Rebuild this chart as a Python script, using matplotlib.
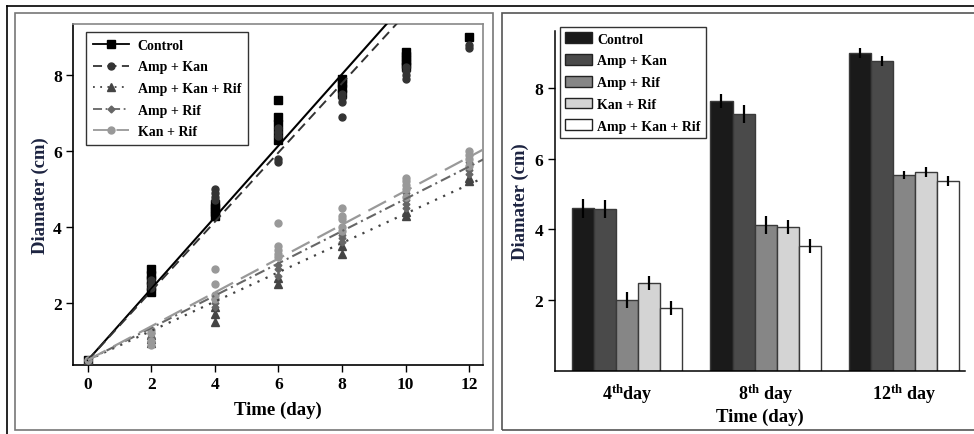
import numpy as np
import matplotlib
matplotlib.use("Agg")
import matplotlib.pyplot as plt
from matplotlib.lines import Line2D
from matplotlib.patches import Rectangle, Patch

plt.rcParams['font.family'] = ['Liberation Serif', 'DejaVu Serif']
plt.rcParams['font.weight'] = 'bold'
plt.rcParams['mathtext.fontset'] = 'custom'
plt.rcParams['mathtext.rm'] = 'Liberation Serif'
plt.rcParams['mathtext.bf'] = 'Liberation Serif:bold'

# ---- left panel: diameter over time (replicates + fitted lines) ----
days = [0, 2, 4, 6, 8, 10, 12]
series_names = ['Control', 'Amp + Kan', 'Amp + Kan + Rif', 'Amp + Rif', 'Kan + Rif']
control_reps = [[0.5], [2.3, 2.45, 2.6, 2.75, 2.9], [4.3, 4.4, 4.5, 4.6],
                [6.3, 6.5, 6.7, 6.9, 7.35], [7.5, 7.65, 7.8, 7.9],
                [8.2, 8.3, 8.4, 8.5, 8.6], [9.0]]
ampkan_reps = [[0.5], [2.4, 2.5, 2.6], [4.7, 4.8, 4.9, 5.0],
               [5.7, 5.8, 6.4, 6.5, 6.6], [6.9, 7.3, 7.4, 7.5],
               [7.9, 8.0, 8.1, 8.2], [8.7, 8.8]]
akr_reps = [[0.5], [0.95, 1.05, 1.15], [1.5, 1.7, 1.9], [2.5, 2.65],
            [3.3, 3.5], [4.3, 4.4], [5.2, 5.3]]
amprif_reps = [[0.5], [1.0, 1.1, 1.2], [1.9, 2.0, 2.1], [2.7, 2.9, 3.0],
               [3.6, 3.7, 3.8], [4.5, 4.6, 4.7, 4.9], [5.4, 5.5, 5.7]]
kanrif_reps = [[0.5], [0.9, 1.0, 1.2, 1.3], [2.1, 2.2, 2.5, 2.9],
               [3.2, 3.3, 3.4, 3.5, 4.1], [3.9, 4.0, 4.2, 4.3, 4.5],
               [4.8, 5.0, 5.1, 5.2, 5.3], [5.6, 5.8, 5.9, 6.0]]
fit_intercept = [0.5, 0.5, 0.5, 0.5, 0.5]
fit_slope = [0.94, 0.91, 0.385, 0.424, 0.445]

# ---- right panel: bar chart ----
bar_days = [4, 8, 12]
bar_names = ['Control', 'Amp + Kan', 'Amp + Rif', 'Kan + Rif', 'Amp + Kan + Rif']
bar_means = [[4.6, 4.58, 2.0, 2.47, 1.77],
             [7.65, 7.28, 4.12, 4.07, 3.53],
             [9.0, 8.78, 5.55, 5.62, 5.37]]
bar_err = [[0.27, 0.25, 0.22, 0.2, 0.2],
           [0.2, 0.25, 0.25, 0.2, 0.2],
           [0.15, 0.15, 0.12, 0.14, 0.14]]

ylab_color = '#1c2340'

fig = plt.figure(figsize=(9.74, 4.35), dpi=100)
W, H = 974.0, 435.0

def fx(px):
    return px / W

def fy(py):
    return 1 - py / H

# outer frames
fig.add_artist(Line2D([fx(7), 1], [fy(6.5), fy(6.5)], color='black', lw=1.2))
fig.add_artist(Line2D([fx(7), fx(7)], [fy(6.5), 0], color='black', lw=1.2))
fig.add_artist(Rectangle((fx(15), fy(431)), fx(493 - 15), (431 - 14) / H,
                         fill=False, edgecolor='#777777', lw=1.2))
fig.add_artist(Rectangle((fx(502), fy(431)), fx(990 - 502), (431 - 14) / H,
                         fill=False, edgecolor='#555555', lw=1.2))

# ===== left panel =====
ax1 = fig.add_axes([fx(73), fy(366), fx(483 - 73), (366 - 25) / H])
all_reps = [control_reps, ampkan_reps, akr_reps, amprif_reps, kanrif_reps]
colors = ['#000000', '#333333', '#444444', '#666666', '#999999']
markers = ['s', 'o', '^', 'D', 'o']
msizes = [5.5, 5, 5.5, 3.5, 5]
styles = ['-', (0, (5, 3)), (0, (1, 3)), (0, (5, 2, 1, 2)), (0, (9, 4))]
lws = [1.5, 1.4, 1.6, 1.5, 1.6]

xfit = np.array([0, 13.0])
handles = []
for i, reps in enumerate(all_reps):
    xs = [d for d, r in zip(days, reps) for _ in r]
    ys = [v for r in reps for v in r]
    ax1.plot(xs, ys, ls='none', marker=markers[i], ms=msizes[i],
             color=colors[i], zorder=3)
for i in range(len(all_reps)):
    ax1.plot(xfit, fit_intercept[i] + fit_slope[i] * xfit, ls=styles[i],
             color=colors[i], lw=lws[i], zorder=4)
    handles.append(Line2D([], [], ls=styles[i], color=colors[i], lw=1.3,
                          marker=markers[i], ms=msizes[i]))

ax1.set_xlim(-0.47, 12.44)
ax1.set_ylim(0.37, 9.34)
ax1.set_xticks(days)
ax1.set_yticks([2, 4, 6, 8])
ax1.tick_params(direction='out', length=5, width=1, labelsize=12.5, pad=3)
for s in ['top', 'right']:
    ax1.spines[s].set_color('#888888')
for s in ['left', 'bottom']:
    ax1.spines[s].set_color('black')
for s in ax1.spines.values():
    s.set_linewidth(1.2)
ax1.set_xlabel('Time (day)', fontsize=13.5, fontweight='bold', labelpad=6)
ax1.set_ylabel('Diamater (cm)', fontsize=13.5, fontweight='bold',
               color=ylab_color, labelpad=3)
leg1 = ax1.legend(handles, series_names, loc='upper left',
                  bbox_to_anchor=(0.032, 0.977), borderaxespad=0,
                  fontsize=10, frameon=True,
                  fancybox=False, edgecolor='black', handlelength=2.6,
                  labelspacing=0.62, borderpad=0.5, handletextpad=0.6)
leg1.get_frame().set_linewidth(1.0)

# ===== right panel =====
ax2 = fig.add_axes([fx(555), fy(371.5), fx(965 - 555), (371.5 - 32) / H])
bar_colors = ['#1a1a1a', '#4a4a4a', '#868686', '#d4d4d4', '#ffffff']
bw = 0.159
group_x = np.arange(len(bar_days))
means = np.array(bar_means)
errs = np.array(bar_err)
for j in range(len(bar_names)):
    xpos = group_x + (j - 2) * bw
    ax2.bar(xpos, means[:, j], width=bw, color=bar_colors[j],
            edgecolor='#3a3a3a', lw=1.0, label=bar_names[j], zorder=2)
    ax2.errorbar(xpos, means[:, j], yerr=errs[:, j], fmt='none',
                 ecolor='black', elinewidth=1.6, capsize=0, zorder=3)

ax2.set_xlim(-0.52, 2.44)
ax2.set_ylim(0, 9.63)
ax2.set_yticks([2, 4, 6, 8])
ax2.set_xticks(group_x)
ax2.set_xticklabels([r'$\mathbf{4^{th}}$day', r'$\mathbf{8^{th}}$ day',
                     r'$\mathbf{12^{th}}$ day'])
ax2.tick_params(axis='x', length=0, labelsize=13, pad=8)
ax2.tick_params(axis='y', direction='out', length=5, width=1, labelsize=12.5)
ax2.spines['top'].set_visible(False)
ax2.spines['right'].set_visible(False)
ax2.spines['left'].set_linewidth(1.1)
ax2.spines['bottom'].set_linewidth(1.1)
ax2.set_xlabel('Time (day)', fontsize=13.5, fontweight='bold', labelpad=2)
ax2.set_ylabel('Diamater (cm)', fontsize=13.5, fontweight='bold',
               color=ylab_color, labelpad=4)
hb = [Patch(facecolor=c, edgecolor='#222222', lw=1.0) for c in bar_colors]
leg2 = ax2.legend(hb, bar_names, loc='upper left', bbox_to_anchor=(0.012, 1.012),
                  borderaxespad=0, fontsize=10, frameon=True, fancybox=False,
                  edgecolor='black', handlelength=1.9, handleheight=0.8,
                  labelspacing=0.62, borderpad=0.4, handletextpad=0.4)
leg2.get_frame().set_linewidth(1.0)
leg2.set_zorder(5)

fig.savefig('out.png', dpi=100)
